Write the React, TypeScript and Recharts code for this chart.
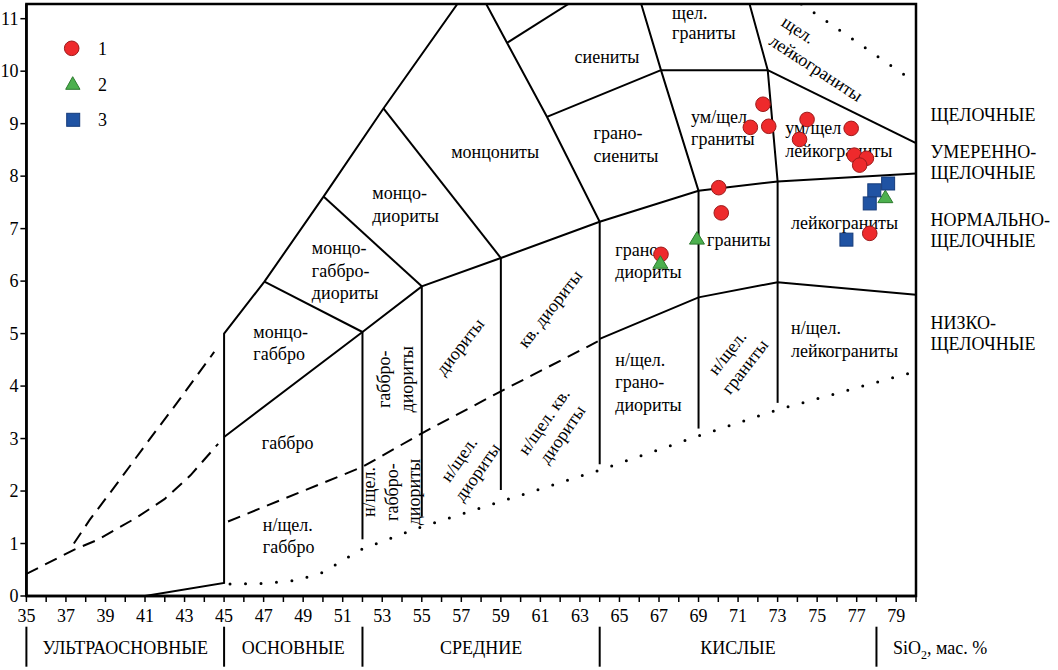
import React from "react";
import {
  ComposedChart,
  Line,
  Scatter,
  XAxis,
  YAxis,
  ReferenceDot,
  ReferenceLine,
  ReferenceArea,
} from "recharts";

type Pt = [number, number];

// samples: SiO2 (wt.%) vs Na2O+K2O (wt.%)
const GROUP_1: Pt[] = [
  [72.26, 9.37], [71.62, 8.93], [72.55, 8.95], [74.49, 9.08], [74.11, 8.7],
  [76.72, 8.91], [76.88, 8.4], [77.49, 8.34], [77.15, 8.21], [70.02, 7.78],
  [70.15, 7.3], [77.66, 6.91], [67.1, 6.51],
];
const GROUP_2: Pt[] = [[67.07, 6.34], [68.92, 6.8], [78.45, 7.59]];
const GROUP_3: Pt[] = [[78.59, 7.86], [77.89, 7.73], [77.66, 7.48], [76.48, 6.79]];

// field boundaries
const OUTER_EDGE: Pt[] = [[41, 0], [45, 0.25], [45, 5], [47.04, 5.99], [50.03, 7.61], [53.06, 9.29], [56.8, 11.28]];
const ALKALINE_EDGE: Pt[] = [[45, 3.03], [52, 5.03], [55, 5.9], [59, 6.44], [64, 7.13], [69, 7.72], [73, 7.9], [80, 8.05]];
const MGD_BASE: Pt[] = [[47.04, 5.99], [52, 5.03]];
const MD_BASE: Pt[] = [[50.03, 7.61], [55, 5.9]];
const MONZ_BASE: Pt[] = [[53.06, 9.29], [59, 6.44]];
const SYEN_LEFT: Pt[] = [[58.26, 11.28], [59.31, 10.54], [61.33, 9.13], [64, 7.13]];
const SYEN_TOP: Pt[] = [[59.31, 10.54], [62.42, 11.28]];
const SYEN_BASE: Pt[] = [[61.33, 9.13], [67.1, 10.02]];
const GRAN_LEFT: Pt[] = [[66.1, 11.28], [67.1, 10.02], [69, 7.72]];
const ALK_GRAN_BASE: Pt[] = [[67.1, 10.02], [72.5, 10.02]];
const GRAN_RIGHT: Pt[] = [[71.58, 11.28], [72.5, 10.02], [73, 7.9]];
const LEUCO_TOP: Pt[] = [[72.5, 10.02], [80, 8.63]];
const LOW_ALK_EDGE: Pt[] = [[64, 4.9], [69, 5.69], [73, 5.98], [80, 5.74]];
const V52: Pt[] = [[52, 1.08], [52, 5.03]];
const V55: Pt[] = [[55, 1.51], [55, 5.9]];
const V59: Pt[] = [[59, 2.02], [59, 6.44]];
const V64: Pt[] = [[64, 2.51], [64, 7.13]];
const V69: Pt[] = [[69, 3.19], [69, 7.72]];
const V73: Pt[] = [[73, 3.68], [73, 7.9]];

const DASH_ULTRA_LOW: Pt[] = [[35, 0.42], [37.4, 0.88], [38.6, 1.07], [40.6, 1.5], [42, 1.85], [43.3, 2.3], [44.7, 2.9]];
const DASH_ULTRA_HIGH: Pt[] = [[37.4, 1.0], [38.2, 1.45], [39.6, 2.15], [41.2, 2.97], [42.6, 3.67], [44.5, 4.65]];
const DASH_NORMAL: Pt[] = [[45.2, 1.42], [52, 2.46], [55, 3.1], [59, 3.9], [63.9, 4.85]];

const DOT_LOW: Pt[] = [[45.3, 0.23], [47, 0.24], [48.7, 0.3], [50, 0.45], [52, 0.9], [55, 1.32], [59, 1.8], [64, 2.4], [69, 3.05], [73, 3.55], [80, 4.28]];
const DOT_HIGH: Pt[] = [[74.2, 11.28], [80, 9.78]];

const SOLID = [OUTER_EDGE, ALKALINE_EDGE, MGD_BASE, MD_BASE, MONZ_BASE, SYEN_LEFT, SYEN_TOP, SYEN_BASE, GRAN_LEFT, ALK_GRAN_BASE, GRAN_RIGHT, LEUCO_TOP, LOW_ALK_EDGE, V52, V55, V59, V64, V69, V73];
const DASHED = [DASH_ULTRA_LOW, DASH_ULTRA_HIGH, DASH_NORMAL];
const DOTTED = [DOT_LOW, DOT_HIGH];

const X_TICKS = [35, 36, 37, 38, 39, 40, 41, 42, 43, 44, 45, 46, 47, 48, 49, 50, 51, 52, 53, 54, 55, 56, 57, 58, 59, 60, 61, 62, 63, 64, 65, 66, 67, 68, 69, 70, 71, 72, 73, 74, 75, 76, 77, 78, 79, 80];
const Y_TICKS = [0, 1, 2, 3, 4, 5, 6, 7, 8, 9, 10, 11];

const SILICA_GROUPS = [
  { name: "УЛЬТРАОСНОВНЫЕ", from: 35, to: 45 },
  { name: "ОСНОВНЫЕ", from: 45, to: 52 },
  { name: "СРЕДНИЕ", from: 52, to: 64 },
  { name: "КИСЛЫЕ", from: 64, to: 78 },
];

const SERIES_NAMES = [
  { x: 80.73, y: 9.16, t: ["ЩЕЛОЧНЫЕ"] },
  { x: 80.73, y: 8.46, t: ["УМЕРЕННО-", "ЩЕЛОЧНЫЕ"] },
  { x: 80.73, y: 7.16, t: ["НОРМАЛЬНО-", "ЩЕЛОЧНЫЕ"] },
  { x: 80.73, y: 5.19, t: ["НИЗКО-", "ЩЕЛОЧНЫЕ"] },
];

type Lbl = { x: number; y: number; t: string[]; a?: "start" | "middle"; r?: number; lh?: number };

const FIELD_NAMES: Lbl[] = [
  { x: 58.71, y: 8.46, t: ["монцониты"], a: "middle" },
  { x: 52.5, y: 7.67, t: ["монцо-", "диориты"] },
  { x: 49.44, y: 6.62, t: ["монцо-", "габбро-", "диориты"] },
  { x: 46.48, y: 5.03, t: ["монцо-", "габбро"] },
  { x: 46.91, y: 2.91, t: ["габбро"] },
  { x: 46.96, y: 1.35, t: ["н/щел.", "габбро"] },
  { x: 53.69, y: 4.13, t: ["габбро-", "диориты"], a: "middle", r: -90 },
  { x: 53.49, y: 1.98, t: ["н/щел.", "габбро-", "диориты"], a: "middle", r: -90 },
  { x: 56.94, y: 4.75, t: ["диориты"], a: "middle", r: -52 },
  { x: 57.35, y: 2.48, t: ["н/щел.", "диориты"], a: "middle", r: -55 },
  { x: 61.5, y: 5.47, t: ["кв. диориты"], a: "middle", r: -52 },
  { x: 61.65, y: 3.2, t: ["н/щел. кв.", "диориты"], a: "middle", r: -55 },
  { x: 64.79, y: 6.59, t: ["грано", "диориты"] },
  { x: 69.43, y: 6.78, t: ["граниты"] },
  { x: 64.79, y: 4.5, t: ["н/щел.", "грано-", "диориты"] },
  { x: 70.91, y: 4.5, t: ["н/щел.", "граниты"], a: "middle", r: -52 },
  { x: 73.68, y: 5.1, t: ["н/щел.", "лейкограниты"] },
  { x: 73.68, y: 7.1, t: ["лейкограниты"] },
  { x: 73.39, y: 8.91, t: ["ум/щел", "лейкограниты"] },
  { x: 68.62, y: 9.13, t: ["ум/щел", "граниты"] },
  { x: 73.29, y: 10.97, t: ["щел.", "лейкограниты"], r: 33 },
  { x: 67.66, y: 11.1, t: ["щел.", "граниты"], lh: 20 },
  { x: 64.37, y: 10.27, t: ["сиениты"], a: "middle" },
  { x: 63.69, y: 8.81, t: ["грано-", "сиениты"] },
];

const FONT = '"Liberation Serif", "Times New Roman", Times, serif';
const TXT = { fontFamily: FONT, fontSize: 18 };
const RED = { fill: "#ee2a2c", stroke: "#9c1a1a" };
const GREEN = { fill: "#4cb04e", stroke: "#2c7a2e" };
const BLUE = { fill: "#2053a3", stroke: "#163b7a" };

const toXY = (pts: Pt[]) => pts.map(([x, y]) => ({ x, y }));

function MultiText({ cx, cy, l }: { cx: number; cy: number; l: Lbl }) {
  const lh = l.lh ?? 22.5;
  const anchor = l.a ?? "start";
  const off = l.r && anchor === "middle" ? (-(l.t.length - 1) * lh) / 2 : 0;
  return (
    <text
      textAnchor={anchor}
      style={TXT}
      fill="#000"
      transform={l.r ? `rotate(${l.r} ${cx} ${cy})` : undefined}
    >
      {l.t.map((s, i) => (
        <tspan key={i} x={cx} y={cy + off + i * lh} dy="0.32em">
          {s}
        </tspan>
      ))}
    </text>
  );
}

const XTick = (p: any) => {
  const v = p.payload.value;
  if (v % 2 === 0) return <g />;
  return (
    <text x={p.x} y={p.y} dy="0.71em" textAnchor="middle" style={TXT} fill="#000">
      {v}
    </text>
  );
};

const YTick = (p: any) => (
  <text x={p.x} y={p.y} dy="0.35em" textAnchor="end" style={TXT} fill="#000">
    {p.payload.value}
  </text>
);

const Circle = (p: any) => <circle cx={p.cx} cy={p.cy} r={7.3} {...RED} strokeWidth={1} />;
const Triangle = (p: any) => (
  <polygon
    points={`${p.cx},${p.cy - 7.5} ${p.cx + 7.5},${p.cy + 5} ${p.cx - 7.5},${p.cy + 5}`}
    {...GREEN}
    strokeWidth={1}
  />
);
const Square = (p: any) => <rect x={p.cx - 6.5} y={p.cy - 6.5} width={13} height={13} {...BLUE} strokeWidth={1} />;

function LegendBox() {
  return (
    <svg width={140} height={140} style={{ position: "absolute", left: 0, top: 0, pointerEvents: "none" }}>
      <circle cx={71.7} cy={48.3} r={7.3} {...RED} />
      <text x={98} y={48.3} dy="0.35em" style={TXT}>1</text>
      <polygon points="72.7,76.7 80,89.3 65.7,89.3" {...GREEN} />
      <text x={98} y={85} dy="0.35em" style={TXT}>2</text>
      <rect x={66.7} y={113.3} width={13} height={13} {...BLUE} />
      <text x={98} y={119.3} dy="0.35em" style={TXT}>3</text>
    </svg>
  );
}

export default function App() {
  return (
    <div style={{ position: "absolute", left: 0, top: 0, width: 1058, height: 670, background: "#fff", fontFamily: FONT }}>
      <ComposedChart width={1058} height={670} margin={{ top: 4, right: 142, bottom: 44, left: 0 }} style={{ fontFamily: FONT }}>
        <XAxis
          dataKey="x"
          type="number"
          domain={[35, 80]}
          ticks={X_TICKS}
          interval={0}
          allowDataOverflow
          height={30}
          tickSize={6}
          tickMargin={7}
          tick={<XTick />}
          axisLine={{ stroke: "#000", strokeWidth: 2.5 }}
          tickLine={{ stroke: "#000", strokeWidth: 1.5 }}
        />
        <YAxis
          dataKey="y"
          type="number"
          domain={[0, 11.28]}
          ticks={Y_TICKS}
          interval={0}
          allowDataOverflow
          width={26.4}
          tickSize={6}
          tickMargin={2}
          tick={<YTick />}
          axisLine={{ stroke: "#000", strokeWidth: 2.5 }}
          tickLine={{ stroke: "#000", strokeWidth: 1.5 }}
        />
        <ReferenceArea x1={35} x2={80} y1={0} y2={11.28} fill="none" stroke="#000" strokeWidth={2.5} ifOverflow="visible" />

        {SOLID.map((pts, i) => (
          <Line key={"s" + i} data={toXY(pts)} dataKey="y" stroke="#000" strokeWidth={2} dot={false} activeDot={false} isAnimationActive={false} legendType="none" />
        ))}
        {DASHED.map((pts, i) => (
          <Line key={"d" + i} data={toXY(pts)} dataKey="y" stroke="#000" strokeWidth={2} strokeDasharray="13 8" dot={false} activeDot={false} isAnimationActive={false} legendType="none" />
        ))}
        {DOTTED.map((pts, i) => (
          <Line key={"p" + i} data={toXY(pts)} dataKey="y" stroke="#000" strokeWidth={3} strokeLinecap="round" strokeDasharray="0 15.5" dot={false} activeDot={false} isAnimationActive={false} legendType="none" />
        ))}

        {FIELD_NAMES.map((l, i) => (
          <ReferenceDot key={"f" + i} x={l.x} y={l.y} r={1} ifOverflow="visible" shape={(p: any) => <MultiText cx={p.cx} cy={p.cy} l={l} />} />
        ))}
        {SERIES_NAMES.map((l, i) => (
          <ReferenceDot key={"n" + i} x={l.x} y={l.y} r={1} ifOverflow="visible" shape={(p: any) => <MultiText cx={p.cx} cy={p.cy} l={{ ...l, lh: 21 }} />} />
        ))}

        {SILICA_GROUPS.map((g) => (
          <ReferenceLine key={"g" + g.from} segment={[{ x: g.from, y: -0.585 }, { x: g.from, y: -1.347 }]} stroke="#000" strokeWidth={2} ifOverflow="visible" />
        ))}
        <ReferenceLine segment={[{ x: 78, y: -0.585 }, { x: 78, y: -1.347 }]} stroke="#000" strokeWidth={2} ifOverflow="visible" />
        {SILICA_GROUPS.map((g) => (
          <ReferenceDot
            key={"gl" + g.from}
            x={(g.from + g.to) / 2}
            y={-0.99}
            r={1}
            ifOverflow="visible"
            shape={(p: any) => (
              <text x={p.cx} y={p.cy} dy="0.35em" textAnchor="middle" style={TXT} fill="#000">
                {g.name}
              </text>
            )}
          />
        ))}
        <ReferenceDot
          x={78.84}
          y={-0.99}
          r={1}
          ifOverflow="visible"
          shape={(p: any) => (
            <text x={p.cx} y={p.cy} dy="0.35em" style={TXT} fill="#000">
              SiO<tspan style={{ fontSize: 12 }} dy={5}>2</tspan>
              <tspan dy={-5}>, мас. %</tspan>
            </text>
          )}
        />

        <Scatter name="1" data={toXY(GROUP_1)} dataKey="y" shape={Circle} isAnimationActive={false} />
        <Scatter name="2" data={toXY(GROUP_2)} dataKey="y" shape={Triangle} isAnimationActive={false} />
        <Scatter name="3" data={toXY(GROUP_3)} dataKey="y" shape={Square} isAnimationActive={false} />
      </ComposedChart>
      <LegendBox />
    </div>
  );
}
